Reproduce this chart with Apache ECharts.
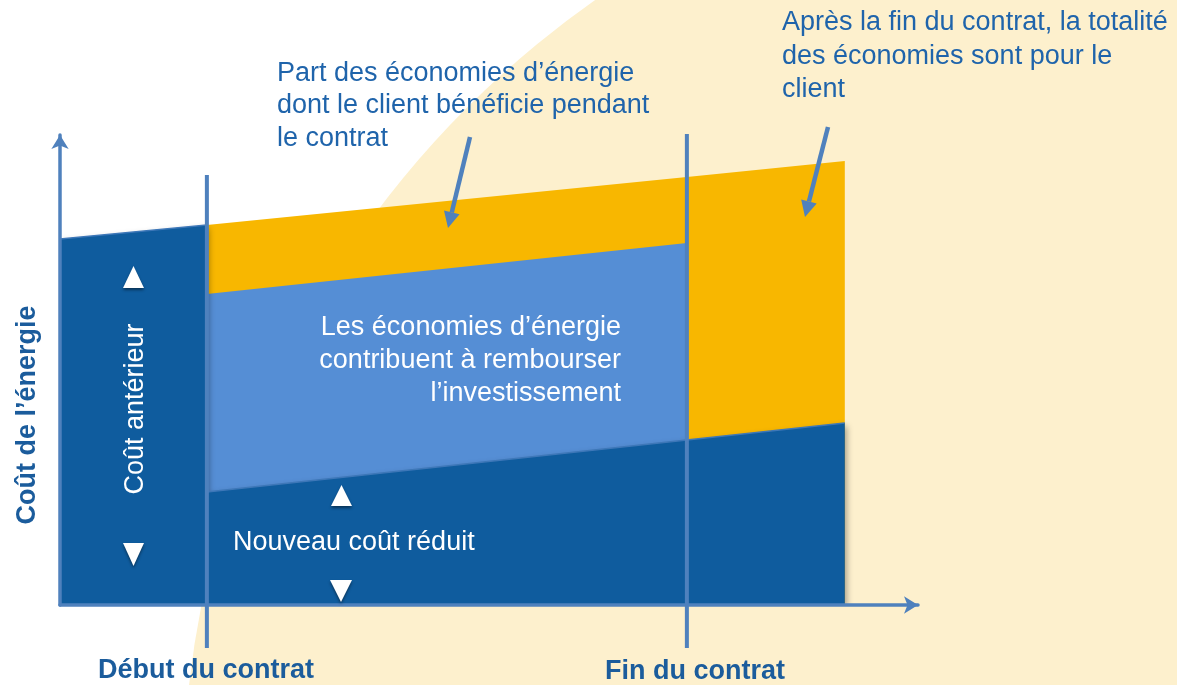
<!DOCTYPE html>
<html>
<head>
<meta charset="utf-8">
<script src="https://cdn.jsdelivr.net/npm/echarts@6/dist/echarts.min.js"></script>
<style>
  html, body { margin: 0; padding: 0; background: #fff; }
  #chart { width: 1177px; height: 685px; }
</style>
</head>
<body>
<div id="chart"></div>
<script>
// time positions (x) : origin, début du contrat, fin du contrat, end of drawing
const xStart = 0;
const xDebut = 3.06;
const xFin = 13.06;
const xEnd = 16.35;

// energy cost levels (y)
const coutAnterieur = [36.6, 38.0, 42.8, 44.4];   // at xStart, xDebut, xFin, xEnd
const coutReduit = [11.3, 16.5, 18.2];            // at xDebut, xFin, xEnd
const remboursement = [31.1, 36.2];               // at xDebut, xFin

const labelDebut = "Début du contrat";
const labelFin = "Fin du contrat";

const FONT = "'Liberation Sans', Arial, sans-serif";
const BLUE_TXT = "#1f64ab";
const BOLD_TXT = "#1b5c9c";
const LINE_COL = "#4f81bd";

let chart = echarts.init(document.getElementById("chart"));

function arrow(x1, y1, x2, y2) {
  const dx = x2 - x1, dy = y2 - y1;
  const len = Math.sqrt(dx * dx + dy * dy);
  const ux = dx / len, uy = dy / len;
  const px = -uy, py = ux;
  const bx = x2 - ux * 16, by = y2 - uy * 16;
  return [
    { type: "line", shape: { x1: x1, y1: y1, x2: bx, y2: by },
      style: { stroke: LINE_COL, lineWidth: 4.5 }, z: 20 },
    { type: "polygon",
      shape: { points: [[x2, y2], [bx + px * 8, by + py * 8], [bx - px * 8, by - py * 8]] },
      style: { fill: LINE_COL }, z: 20 },
  ];
}

function tri(points) {
  return {
    type: "polygon", shape: { points: points }, z: 20,
    style: { fill: "#fff", shadowBlur: 3, shadowOffsetY: 2, shadowColor: "rgba(0,0,0,0.45)" },
  };
}

function txt(x, y, text, opts) {
  return Object.assign({
    type: "text", x: x, y: y, z: 20,
    style: Object.assign({ text: text, font: "27px " + FONT, fill: BLUE_TXT }, opts.style || {}),
  }, opts.el || {});
}

const graphics = [
  { type: "circle", shape: { cx: 1152, cy: 793, r: 969 }, style: { fill: "#fdf0cd" }, z: -10 },
  ...arrow(470, 137, 448, 228),
  ...arrow(828, 127, 805, 217),
  tri([[123, 288], [144, 288], [133.5, 266]]),
  tri([[123, 543], [144, 543], [133.5, 566]]),
  tri([[331, 506], [352, 506], [341.5, 485]]),
  tri([[330, 580], [352, 580], [341, 602]]),
  txt(277, 57, "Part des économies d’énergie\ndont le client bénéficie pendant\nle contrat",
    { style: { lineHeight: 32.5, align: "left", verticalAlign: "top" } }),
  txt(782, 6, "Après la fin du contrat, la totalité\ndes économies sont pour le\nclient",
    { style: { lineHeight: 33.5, align: "left", verticalAlign: "top" } }),
  txt(621, 311, "Les économies d’énergie\ncontribuent à rembourser\nl’investissement",
    { style: { lineHeight: 33, align: "right", verticalAlign: "top", fill: "#fff" } }),
  txt(233, 543, "Nouveau coût réduit",
    { style: { align: "left", verticalAlign: "middle", fill: "#fff" } }),
  txt(136, 409, "Coût antérieur",
    { style: { align: "center", verticalAlign: "middle", fill: "#fff" }, el: { rotation: Math.PI / 2 } }),
  txt(28, 415, "Coût de l’énergie",
    { style: { align: "center", verticalAlign: "middle", fill: BOLD_TXT, font: "bold 27px " + FONT },
      el: { rotation: Math.PI / 2 } }),
  txt(206, 671, labelDebut,
    { style: { align: "center", verticalAlign: "middle", fill: BOLD_TXT, font: "bold 27px " + FONT } }),
  txt(695, 672, labelFin,
    { style: { align: "center", verticalAlign: "middle", fill: BOLD_TXT, font: "bold 27px " + FONT } }),
];

const vline = (x, top) => ({
  type: "line",
  data: [[x, top], [x, -4.3]],
  symbol: "none",
  clip: false,
  z: 6,
  lineStyle: { color: LINE_COL, width: 4 },
});

chart.setOption({
  animation: false,
  grid: { left: 60, top: 135, width: 858, height: 470 },
  xAxis: {
    type: "value",
    min: 0,
    max: 17.875,
    z: 5,
    axisLine: { lineStyle: { color: LINE_COL, width: 3.5 }, symbol: ["none", "arrow"], symbolSize: [13, 14] },
    axisTick: { show: false },
    axisLabel: { show: false },
    splitLine: { show: false },
  },
  yAxis: {
    type: "value",
    min: 0,
    max: 47,
    z: 5,
    axisLine: { show: true, lineStyle: { color: LINE_COL, width: 3.5 }, symbol: ["none", "arrow"], symbolSize: [13, 14] },
    axisTick: { show: false },
    axisLabel: { show: false },
    splitLine: { show: false },
  },
  graphic: graphics,
  series: [
    {
      // part des économies pour le client (jaune)
      type: "line",
      data: [[xDebut, coutAnterieur[1]], [xFin, coutAnterieur[2]], [xEnd, coutAnterieur[3]]],
      symbol: "none",
      z: 2,
      lineStyle: { width: 0 },
      areaStyle: { color: "#f8b700", opacity: 1 },
    },
    {
      // remboursement de l'investissement (bleu clair)
      type: "line",
      data: [[xDebut, remboursement[0]], [xFin, remboursement[1]]],
      symbol: "none",
      z: 3,
      lineStyle: { width: 0 },
      areaStyle: { color: "#558ed5", opacity: 1 },
    },
    {
      // coût antérieur puis nouveau coût réduit (bleu foncé)
      type: "line",
      data: [
        [xStart, coutAnterieur[0]], [xDebut, coutAnterieur[1]],
        [xDebut, coutReduit[0]], [xFin, coutReduit[1]], [xEnd, coutReduit[2]],
      ],
      symbol: "none",
      z: 4,
      lineStyle: { width: 1.5, color: "#3d77b8" },
      areaStyle: {
        color: "#0f5c9e", opacity: 1,
        shadowBlur: 6, shadowOffsetX: 2, shadowOffsetY: 3, shadowColor: "rgba(0,0,0,0.35)",
      },
    },
    vline(xDebut, 43.0),
    vline(xFin, 47.1),
  ],
});
</script>
</body>
</html>
